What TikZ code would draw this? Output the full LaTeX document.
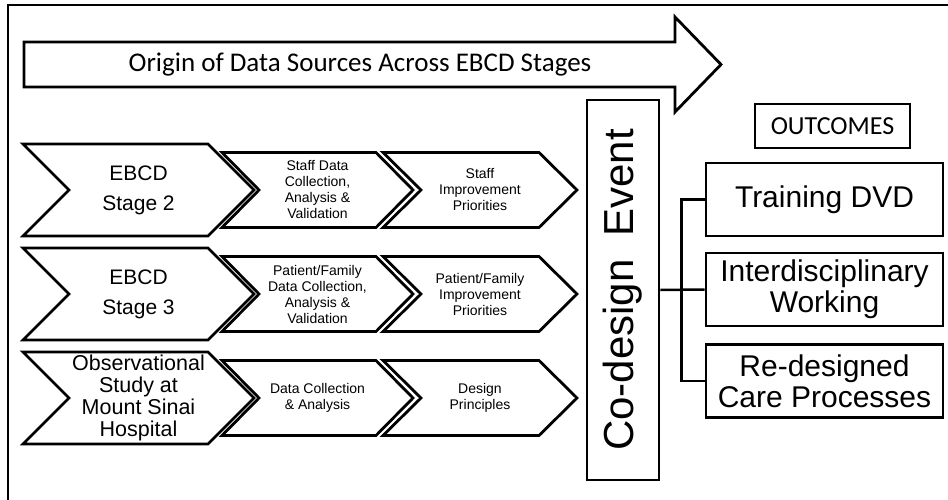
\documentclass[tikz,border=0pt]{standalone}
\usepackage{fontspec}
\setmainfont{Liberation Sans}
\newfontfamily\calib{Carlito}
\newcommand\mychev[8]{%
  \draw[chevpath] ({#2},{#4-#5}) -- ({#3-#6},{#4-#5}) -- ({#3},{#4}) -- ({#3-#6},{#4+#5}) -- ({#2},{#4+#5}) -- ({#2+#6},{#4}) -- cycle;
  \node[#8] (#1) at ({(#2+#3)/2},{#4}) {#7};}
\begin{document}
\begin{tikzpicture}[x=1pt,y=-1pt,
  chevpath/.style={draw, line width=2.8pt, line join=miter, fill=white},
  bigtxt/.style={font=\fontsize{21}{30}\selectfont, align=center, inner sep=0pt},
  obstxt/.style={font=\fontsize{21.5}{22}\selectfont, align=center, inner sep=0pt},
  smalltxt/.style={font=\fontsize{14}{16}\selectfont, align=center, inner sep=0pt},
  outbox/.style={draw, line width=2.8pt, minimum width=237pt, minimum height=73pt, inner sep=0pt, align=center, font=\fontsize{30}{31}\selectfont},
  conn/.style={line width=2.5pt}]
\clip (0,0) rectangle (948,500);
\useasboundingbox (0,0) rectangle (948,500);
% frame
\draw[line width=2pt] (8,520) -- (8,5) -- (960,5);
% top arrow
\draw[line width=2.8pt, line join=miter] (24,42) -- (675,42) -- (675,17) -- (721,64.5) -- (675,112) -- (675,87) -- (24,87) -- cycle;
\node[font=\calib\fontsize{27}{30}\selectfont, inner sep=0pt] (title) at (360,65) {Origin of Data Sources Across EBCD Stages};
% row 1
\mychev{a1}{23}{254}{190}{46}{46}{EBCD\\Stage 2}{bigtxt}
\mychev{a2}{222}{413}{190}{37.5}{37}{Staff Data\\Collection,\\Analysis \&\\Validation}{smalltxt}
\mychev{a3}{383}{577}{190}{37.5}{38}{Staff\\Improvement\\Priorities}{smalltxt}
% row 2
\mychev{b1}{23}{254}{294}{46}{46}{EBCD\\Stage 3}{bigtxt}
\mychev{b2}{222}{413}{294}{37.5}{37}{Patient/Family\\Data Collection,\\Analysis \&\\Validation}{smalltxt}
\mychev{b3}{383}{577}{294}{37.5}{38}{Patient/Family\\Improvement\\Priorities}{smalltxt}
% row 3
\mychev{c1}{23}{254}{398}{46}{46}{Observational\\Study at\\Mount Sinai\\Hospital}{obstxt}
\mychev{c2}{222}{413}{398}{37.5}{37}{Data Collection\\\& Analysis}{smalltxt}
\mychev{c3}{383}{577}{398}{37.5}{38}{Design\\Principles}{smalltxt}
% co-design
\node[draw, line width=2.8pt, rotate=90, minimum width=380pt, minimum height=72pt, inner sep=0pt, font=\fontsize{42}{42}\selectfont] (codesign) at (623,290) {Co-design\hspace{0.55em}Event};
% outcomes
\node[draw, line width=2.8pt, minimum width=155pt, minimum height=44pt, inner sep=0pt, font=\calib\fontsize{26}{26}\selectfont] (outc) at (832.5,126) {OUTCOMES};
\node[outbox] (train) at (824.5,199.5) {Training DVD};
\node[outbox] (inter) at (824.5,289.5) {Interdisciplinary\\Working};
\node[outbox] (redes) at (824.5,381) {Re-designed\\Care Processes};
\draw[conn] (codesign.south) -- (inter.west);
\draw[conn] (train.west) -- ++(-23,0) |- (redes.west);
\end{tikzpicture}
\end{document}
